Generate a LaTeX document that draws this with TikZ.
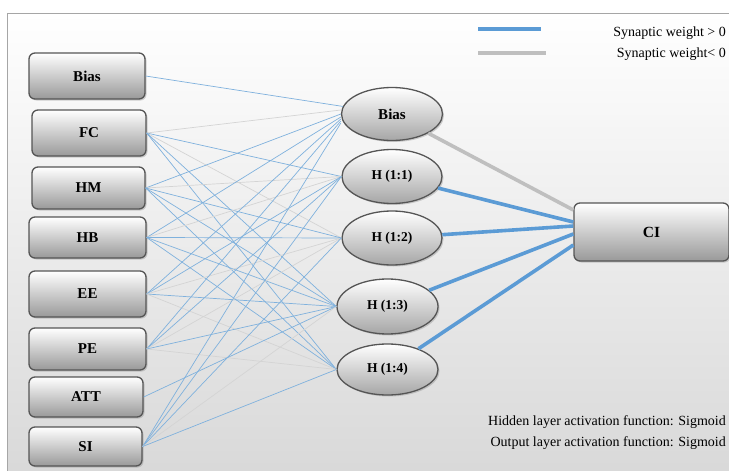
\documentclass[tikz,border=0pt]{standalone}
\usepackage{fontspec}
\setmainfont{Liberation Serif}
\usetikzlibrary{shapes.geometric,shadows,calc}
\definecolor{thinblue}{HTML}{7FB1DD}
\definecolor{thingray}{HTML}{D4D4D4}
\definecolor{thickblue}{HTML}{5B9BD5}
\definecolor{thickgray}{HTML}{BFBFBF}
\definecolor{edgecol}{HTML}{555555}
\definecolor{framecol}{HTML}{A6A6A6}
\begin{document}
\begin{tikzpicture}[x=1pt,y=-1pt,
  inbox/.style={draw=edgecol,line width=1.3pt,rounded corners=6pt,top color=white,bottom color=black!40,
    drop shadow={shadow xshift=1.5pt,shadow yshift=-1.5pt,opacity=0.35},
    font=\bfseries\fontsize{15}{17}\selectfont,inner sep=0pt},
  hid/.style={ellipse,draw=edgecol,line width=1.3pt,top color=white,bottom color=black!35,
    drop shadow={shadow xshift=1.5pt,shadow yshift=-1.5pt,opacity=0.35},inner sep=0pt,
    font=\bfseries\fontsize{13.5}{15}\selectfont},
  wpos/.style={draw=thinblue,line width=0.7pt},
  wneg/.style={draw=thingray,line width=0.7pt},
  tpos/.style={draw=thickblue,line width=3.6pt},
  tneg/.style={draw=thickgray,line width=3.6pt},
  note/.style={font=\fontsize{14}{16}\selectfont,anchor=east,inner sep=0pt}]
\useasboundingbox (0,0) rectangle (729,471);
\fill[white] (0,0) rectangle (729,471);
\shade[top color=white,bottom color=black!15] (7,13) rectangle (729,471);
\draw[framecol,line width=1pt] (7,471) -- (7,13) -- (729,13);

% input layer
\node[inbox,minimum width=116pt,minimum height=46pt] (iBias) at (87,76) {Bias};
\node[inbox,minimum width=114pt,minimum height=46pt] (iFC) at (89,133) {FC};
\node[inbox,minimum width=113pt,minimum height=42pt] (iHM) at (88.5,188) {HM};
\node[inbox,minimum width=117pt,minimum height=41pt] (iHB) at (87.5,237.5) {HB};
\node[inbox,minimum width=117pt,minimum height=46pt] (iEE) at (87.5,294) {EE};
\node[inbox,minimum width=117pt,minimum height=42pt] (iPE) at (87.5,349) {PE};
\node[inbox,minimum width=114pt,minimum height=40pt] (iATT) at (86,397) {ATT};
\node[inbox,minimum width=113pt,minimum height=39pt] (iSI) at (85.5,446.5) {SI};

% hidden layer
\node[hid,minimum width=101pt,minimum height=53pt,font=\bfseries\fontsize{15}{17}\selectfont] (hB) at (392,114) {Bias};
\node[hid,minimum width=100pt,minimum height=54pt] (h1) at (392,176.5) {H (1:1)};
\node[hid,minimum width=100pt,minimum height=54pt] (h2) at (392,238) {H (1:2)};
\node[hid,minimum width=101pt,minimum height=55pt] (h3) at (387.5,306.5) {H (1:3)};
\node[hid,minimum width=101pt,minimum height=51pt] (h4) at (387.5,369.5) {H (1:4)};

% output
\node[inbox,minimum width=155pt,minimum height=58pt,font=\bfseries\fontsize{15.5}{17}\selectfont] (ci) at (651.5,232) {CI};

% input -> hidden
\draw[wpos] (iBias.east) -- (hB);
\draw[wneg] (iFC.east) -- ([yshift=4pt]hB.west);
\draw[wpos] (iFC.east) -- (h1.west);
\draw[wneg] (iFC.east) -- (h2.west);
\draw[wpos] (iFC.east) -- (h3.west);
\draw[wpos] (iFC.east) -- (h4.west);
\draw[wpos] (iHM.east) -- (hB.west);
\draw[wneg] (iHM.east) -- (h1.west);
\draw[wpos] (iHM.east) -- (h2.west);
\draw[wpos] (iHM.east) -- (h3.west);
\draw[wpos] (iHM.east) -- (h4.west);
\draw[wpos] (iHB.east) -- ([yshift=-3pt]hB.west);
\draw[wneg] (iHB.east) -- (h1.west);
\draw[wpos] (iHB.east) -- (h2.west);
\draw[wpos] (iHB.east) -- (h3.west);
\draw[wpos] (iHB.east) -- (h4.west);
\draw[wpos] (iEE.east) -- ([yshift=-5pt]hB.west);
\draw[wpos] (iEE.east) -- (h1.west);
\draw[wneg] (iEE.east) -- (h2.west);
\draw[wpos] (iEE.east) -- (h3.west);
\draw[wneg] (iEE.east) -- (h4.west);
\draw[wpos] (iPE.east) -- ([yshift=-7pt]hB.west);
\draw[wpos] (iPE.east) -- (h1.west);
\draw[wneg] (iPE.east) -- (h2.west);
\draw[wpos] (iPE.east) -- (h3.west);
\draw[wneg] (iPE.east) -- (h4.west);
\draw[wpos] (iATT.east) -- (h3.west);
\draw[wpos] (iSI.east) -- ([yshift=-9pt]hB.west);
\draw[wpos] (iSI.east) -- (h1.west);
\draw[wpos] (iSI.east) -- (h2.west);
\draw[wneg] (iSI.east) -- (h3.west);
\draw[wpos] (iSI.east) -- (h4.west);

% hidden -> output
\draw[tneg] (hB) -- ([yshift=22pt]ci.west);
\draw[tpos] (h1) -- ([yshift=10pt]ci.west);
\draw[tpos] (h2) -- ([yshift=6pt]ci.west);
\draw[tpos] (h3) -- ([yshift=-2pt]ci.west);
\draw[tpos] (h4) -- ([yshift=-13pt]ci.west);

% legend
\coordinate (lb1) at (478,29);
\coordinate (lb2) at (541,29);
\coordinate (lg1) at (478,53);
\coordinate (lg2) at (546,53);
\draw[tpos] (lb1) -- (lb2);
\draw[tneg] (lg1) -- (lg2);
\node[note] (t1) at (726,33) {Synaptic weight > 0};
\node[note] (t2) at (726,54) {Synaptic weight< 0};
\node[note] (t3) at (726,422) {Hidden layer activation function: Sigmoid};
\node[note] (t4) at (726,443) {Output layer activation function: Sigmoid};
\end{tikzpicture}
\end{document}
